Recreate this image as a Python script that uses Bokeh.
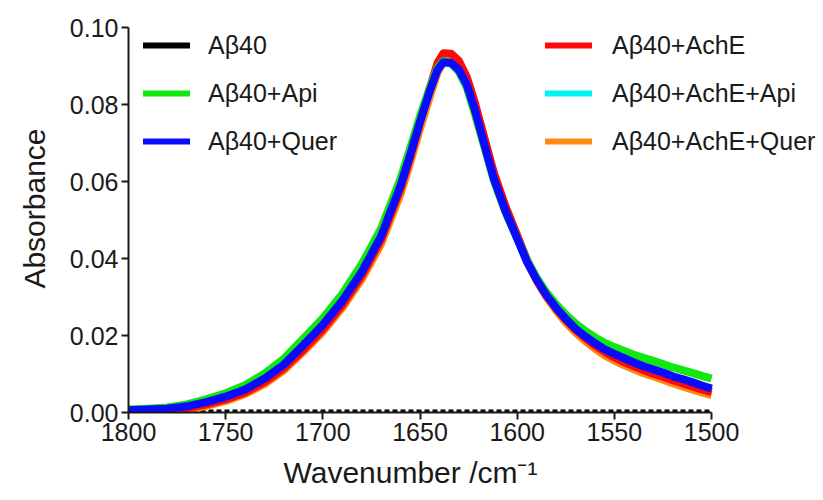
from bokeh.plotting import figure
from bokeh.models import Range1d, FixedTicker, NumeralTickFormatter, Legend, LegendItem, Title
from bokeh.embed import file_html
from bokeh.resources import INLINE

wavenumber = [1800, 1790, 1780, 1770, 1760, 1750, 1740, 1730, 1720, 1710, 1700, 1690,
              1680, 1670, 1660, 1655, 1650, 1645, 1641, 1638, 1634, 1630, 1626, 1622,
              1617, 1612, 1606, 1600, 1595, 1590, 1585, 1580, 1575, 1570, 1565, 1560,
              1555, 1550, 1545, 1540, 1535, 1530, 1525, 1520, 1515, 1510, 1505, 1500]

ab40 = [0.0004] * len(wavenumber)

ab40_ache = [0.0003, 0.0004, 0.0006, 0.0011, 0.0021, 0.0034, 0.0052, 0.0079, 0.0115, 0.0163, 0.0216, 0.0279,
             0.0355, 0.0450, 0.0582, 0.0664, 0.0755, 0.0842, 0.0908, 0.0933, 0.0932, 0.0913, 0.0872, 0.0808,
             0.0715, 0.0622, 0.0535, 0.0460, 0.0397, 0.0346, 0.0305, 0.0271, 0.0241, 0.0215, 0.0194, 0.0174,
             0.0157, 0.0143, 0.0131, 0.0120, 0.0110, 0.0101, 0.0093, 0.0084, 0.0076, 0.0068, 0.0060, 0.0053]

ab40_api = [0.0008, 0.0010, 0.0013, 0.0021, 0.0034, 0.0050, 0.0071, 0.0101, 0.0140, 0.0192, 0.0245, 0.0308,
            0.0385, 0.0478, 0.0608, 0.0687, 0.0770, 0.0843, 0.0895, 0.0913, 0.0907, 0.0885, 0.0845, 0.0780,
            0.0692, 0.0602, 0.0520, 0.0452, 0.0396, 0.0350, 0.0312, 0.0281, 0.0254, 0.0231, 0.0212, 0.0195,
            0.0181, 0.0170, 0.0160, 0.0150, 0.0142, 0.0134, 0.0126, 0.0117, 0.0110, 0.0103, 0.0095, 0.0088]

ab40_ache_api = [0.0005, 0.0007, 0.0009, 0.0015, 0.0026, 0.0040, 0.0058, 0.0086, 0.0122, 0.0172, 0.0225, 0.0287,
                 0.0362, 0.0455, 0.0587, 0.0668, 0.0753, 0.0834, 0.0889, 0.0909, 0.0907, 0.0889, 0.0851, 0.0790,
                 0.0699, 0.0608, 0.0524, 0.0452, 0.0392, 0.0344, 0.0304, 0.0270, 0.0241, 0.0216, 0.0196, 0.0177,
                 0.0161, 0.0149, 0.0138, 0.0127, 0.0117, 0.0109, 0.0101, 0.0091, 0.0084, 0.0076, 0.0067, 0.0059]

ab40_quer = [0.0006, 0.0008, 0.0010, 0.0016, 0.0027, 0.0041, 0.0060, 0.0088, 0.0125, 0.0175, 0.0228, 0.0290,
             0.0365, 0.0458, 0.0590, 0.0670, 0.0755, 0.0835, 0.0890, 0.0910, 0.0908, 0.0890, 0.0852, 0.0790,
             0.0698, 0.0607, 0.0523, 0.0452, 0.0392, 0.0345, 0.0305, 0.0272, 0.0243, 0.0218, 0.0198, 0.0180,
             0.0164, 0.0152, 0.0141, 0.0130, 0.0120, 0.0112, 0.0104, 0.0094, 0.0087, 0.0079, 0.0070, 0.0062]

ab40_ache_quer = [0.0000, 0.0001, 0.0003, 0.0008, 0.0017, 0.0030, 0.0048, 0.0074, 0.0110, 0.0158, 0.0210, 0.0272,
                  0.0346, 0.0438, 0.0568, 0.0650, 0.0737, 0.0820, 0.0883, 0.0910, 0.0913, 0.0900, 0.0864, 0.0803,
                  0.0712, 0.0620, 0.0533, 0.0457, 0.0394, 0.0342, 0.0300, 0.0265, 0.0234, 0.0208, 0.0186, 0.0166,
                  0.0149, 0.0135, 0.0123, 0.0112, 0.0102, 0.0094, 0.0085, 0.0076, 0.0068, 0.0060, 0.0052, 0.0045]

x_ticks = [1800, 1750, 1700, 1650, 1600, 1550, 1500]
y_ticks = [0.0, 0.02, 0.04, 0.06, 0.08, 0.10]

FONT = "Liberation Sans"
TXT = "#1a1a1a"
NAN = float("nan")

# frame spans to the right edge so the legend is not clipped; the x axis is bounded to 1800-1500
p = figure(width=823, height=500, output_backend="svg", toolbar_location=None,
           x_range=Range1d(1800, 1442.4), y_range=Range1d(0, 0.10),
           min_border_left=128, min_border_right=0, min_border_top=27, min_border_bottom=88)
p.outline_line_color = None
p.xgrid.grid_line_color = None
p.ygrid.grid_line_color = None
p.background_fill_color = "white"
p.border_fill_color = "white"

for ax in (p.xaxis[0], p.yaxis[0]):
    ax.axis_line_width = 2
    ax.axis_line_color = TXT
    ax.major_tick_line_width = 2
    ax.major_tick_line_color = TXT
    ax.major_tick_out = 7
    ax.major_tick_in = 0
    ax.minor_tick_line_color = None
    ax.major_label_text_font = FONT
    ax.major_label_text_font_size = "25px"
    ax.major_label_text_color = TXT

p.xaxis.bounds = (1500, 1800)
p.xaxis.ticker = FixedTicker(ticks=x_ticks)
p.yaxis.ticker = FixedTicker(ticks=y_ticks)
p.yaxis.formatter = NumeralTickFormatter(format="0.00")
p.xaxis.major_label_standoff = 3
p.yaxis.major_label_standoff = 3

xt = Title(text="Wavenumber /cm\u207b\u00b9", align="left", offset=155, standoff=21,
           text_font=FONT, text_font_size="30px", text_font_style="normal", text_color=TXT)
p.add_layout(xt, "below")
yt = Title(text="Absorbance", align="right", offset=101, standoff=31,
           text_font=FONT, text_font_size="30px", text_font_style="normal", text_color=TXT)
p.add_layout(yt, "left")

LW = 8
r_black = p.line(wavenumber, ab40, line_color="black", line_width=3, line_dash="5 3")
r_cyan = p.line(wavenumber, ab40_ache_api, line_color="#00f5f5", line_width=LW, line_join="round")
r_orange = p.line(wavenumber, ab40_ache_quer, line_color="#ff8a10", line_width=LW, line_join="round")
r_red = p.line(wavenumber, ab40_ache, line_color="#ff0a0a", line_width=LW, line_join="round")
r_green = p.line(wavenumber, ab40_api, line_color="#10e810", line_width=LW, line_join="round")
r_blue = p.line(wavenumber, ab40_quer, line_color="#0a0aff", line_width=LW, line_join="round")

# legend proxies (solid lines)
def proxy(color):
    return p.line([1800], [NAN], line_color=color, line_width=6, line_cap="round")

r_black_leg = proxy("black")
r_green_leg = proxy("#10e810")
r_blue_leg = proxy("#0a0aff")
r_red_leg = proxy("#ff0a0a")
r_cyan_leg = proxy("#00f5f5")
r_orange_leg = proxy("#ff8a10")


def make_legend(items, loc, standoff):
    return Legend(items=items, location=loc, orientation="vertical",
                  glyph_width=47, glyph_height=30, label_height=30, spacing=18,
                  label_standoff=standoff, padding=0, margin=0,
                  border_line_alpha=0, background_fill_alpha=0,
                  label_text_font=FONT, label_text_font_size="25px", label_text_color=TXT)

leg1 = make_legend([LegendItem(label="A\u03b240", renderers=[r_black_leg]),
                    LegendItem(label="A\u03b240+Api", renderers=[r_green_leg]),
                    LegendItem(label="A\u03b240+Quer", renderers=[r_blue_leg])], (15, 256), 18)
leg2 = make_legend([LegendItem(label="A\u03b240+AchE", renderers=[r_red_leg]),
                    LegendItem(label="A\u03b240+AchE+Api", renderers=[r_cyan_leg]),
                    LegendItem(label="A\u03b240+AchE+Quer", renderers=[r_orange_leg])], (417, 256), 20)
p.add_layout(leg1, "center")
p.add_layout(leg2, "center")

open("out.html", "w").write(file_html(p, INLINE))
